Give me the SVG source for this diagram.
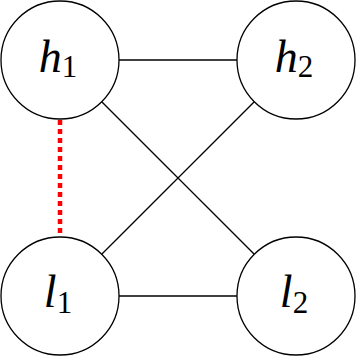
<svg xmlns="http://www.w3.org/2000/svg" width="356" height="356" viewBox="0 0 356 356">
<style>
.node{fill:#fff;stroke:#000;stroke-width:1.3}
.edge{stroke:#000;stroke-width:1.3;fill:none}
.red{stroke:#ff0000;stroke-width:4.5;stroke-dasharray:5 4;fill:none}
.lbl{font-family:"Liberation Serif","DejaVu Serif",serif;font-size:46px;fill:#000}
.v{font-style:italic}
.s{font-size:31px}
</style>
<rect width="356" height="356" fill="#fff"/>
<g id="connectors">
<line class="edge" x1="119" y1="60" x2="237" y2="60"/>
<line class="edge" x1="119" y1="296" x2="237" y2="296"/>
<line class="edge" x1="101.7" y1="101.7" x2="254.3" y2="254.3"/>
<line class="edge" x1="254.3" y1="101.7" x2="101.7" y2="254.3"/>
<line class="red" x1="60" y1="120" x2="60" y2="237"/>
</g>
<g id="h1">
<circle class="node" cx="60" cy="60" r="59"/>
<text class="lbl" x="58" y="72" text-anchor="middle"><tspan class="v">h</tspan><tspan class="s" dy="5">1</tspan></text>
</g>
<g id="h2">
<circle class="node" cx="296" cy="60" r="59"/>
<text class="lbl" x="294" y="72" text-anchor="middle"><tspan class="v">h</tspan><tspan class="s" dy="5">2</tspan></text>
</g>
<g id="l1">
<circle class="node" cx="60" cy="296" r="59"/>
<text class="lbl" x="58" y="307" text-anchor="middle"><tspan class="v">l</tspan><tspan class="s" dy="6">1</tspan></text>
</g>
<g id="l2">
<circle class="node" cx="296" cy="296" r="59"/>
<text class="lbl" x="294" y="307" text-anchor="middle"><tspan class="v">l</tspan><tspan class="s" dy="6">2</tspan></text>
</g>
</svg>
